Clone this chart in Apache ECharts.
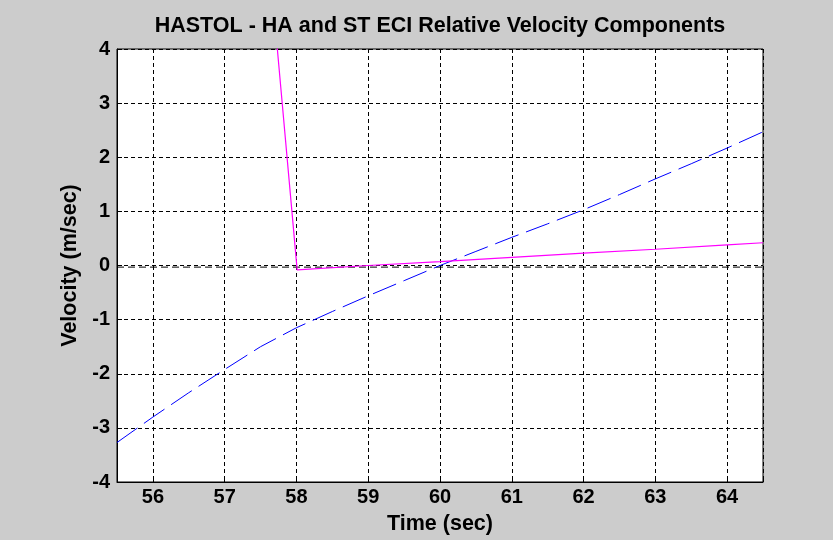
<!DOCTYPE html>
<html>
<head>
<meta charset="utf-8">
<script src="https://cdn.jsdelivr.net/npm/echarts@6/dist/echarts.min.js"></script>
<style>
html,body{margin:0;padding:0;background:#cccccc;}
#chart{width:833px;height:540px;}
</style>
</head>
<body>
<div id="chart"></div>
<script>
// Data
const timeBlue = [55.5,56,56.5,57,57.5,58,58.5,59,59.5,60,60.5,61,61.5,62,62.5,63,63.5,64,64.5];
const velBlue  = [-3.27,-2.8,-2.35,-1.92,-1.5,-1.15,-0.85,-0.56,-0.28,0.0,0.26,0.52,0.77,1.03,1.31,1.6,1.88,2.17,2.47];
const timeMagenta = [57.70,58.01,59,60,61,62,63,64,64.5];
const velMagenta  = [4.5,-0.08,0.0,0.07,0.15,0.23,0.3,0.38,0.42];
const timeBlack = [55.5,56.5,57.5,58.5,59.5,60.5,61.5,62.5,63.5,64.5];
const velBlack  = [-0.03,-0.03,-0.03,-0.03,-0.03,-0.03,-0.03,-0.03,-0.03,-0.03];
const yTicks = [-4,-3,-2,-1,0,1,2,3,4];

const zip = (xs, ys) => xs.map((x, i) => [x, ys[i]]);
const font = '"Liberation Sans", Arial, sans-serif';

const chart = echarts.init(document.getElementById('chart'));
chart.setOption({
  backgroundColor: '#cccccc',
  animation: false,
  title: {
    text: 'HASTOL - HA and ST ECI Relative Velocity Components',
    left: 435, top: 10, textAlign: 'center',
    textStyle: {fontFamily: font, fontWeight: 'bold', fontSize: 21.5, color: '#000'}
  },
  grid: {left: 117, right: 70, top: 49, bottom: 56, show: true, backgroundColor: '#ffffff', borderColor: '#000', borderWidth: 1},
  xAxis: {
    type: 'value', min: 55.5, max: 64.5, splitNumber: 9,
    name: 'Time (sec)', nameLocation: 'middle', nameGap: 31,
    nameTextStyle: {fontFamily: font, fontWeight: 'bold', fontSize: 21.5, color: '#000'},
    axisLine: {show: true, onZero: false, lineStyle: {color: '#000'}},
    axisTick: {show: true, inside: true, length: 5, lineStyle: {color: '#000'}},
    axisLabel: {fontFamily: font, fontWeight: 'bold', fontSize: 20, color: '#000', margin: 5,
      formatter: v => (Math.abs(v - Math.round(v)) < 1e-6 ? String(Math.round(v)) : '')},
    splitLine: {show: true, lineStyle: {color: '#000', type: [4, 3]}}
  },
  yAxis: {
    type: 'value', min: -4, max: 4, interval: 1,
    name: 'Velocity (m/sec)', nameLocation: 'middle', nameGap: 24,
    nameTextStyle: {fontFamily: font, fontWeight: 'bold', fontSize: 21.5, color: '#000'},
    axisLine: {show: true, lineStyle: {color: '#000'}},
    axisTick: {show: true, inside: true, length: 5, lineStyle: {color: '#000'}},
    axisLabel: {fontFamily: font, fontWeight: 'bold', fontSize: 20, color: '#000', margin: 7,
      formatter: v => yTicks.includes(v) ? String(v) : ''},
    splitLine: {show: true, lineStyle: {color: '#000', type: [4, 3]}}
  },
  series: [
    {type: 'line', data: zip(timeBlack, velBlack), showSymbol: false, clip: true,
      lineStyle: {color: '#000', width: 1, type: [7, 4]}},
    {type: 'line', data: zip(timeBlue, velBlue), showSymbol: false, clip: true,
      lineStyle: {color: '#0000ff', width: 1, type: [25, 8]}},
    {type: 'line', data: zip(timeMagenta, velMagenta), showSymbol: false, clip: true,
      lineStyle: {color: '#ff00ff', width: 1.2}}
  ]
});
</script>
</body>
</html>
